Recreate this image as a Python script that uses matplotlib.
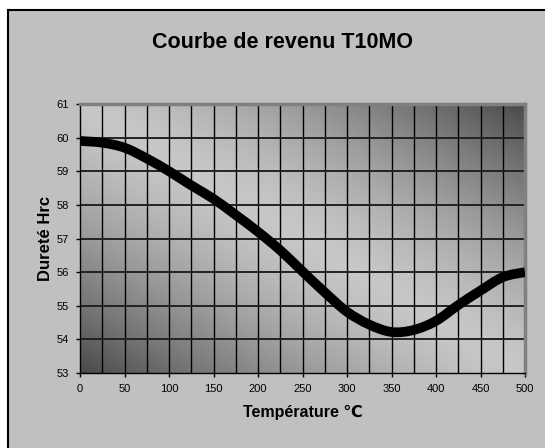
import numpy as np
import matplotlib
matplotlib.use("Agg")
import matplotlib.pyplot as plt
from matplotlib.patches import Rectangle, PathPatch
from matplotlib.path import Path

plt.rcParams['font.family'] = ['Liberation Sans', 'DejaVu Sans']

temperature = [0, 25, 50, 75, 100, 125, 150, 175, 200, 225, 250, 275, 300, 325, 350, 375, 400, 425, 450, 475, 500]
durete = [59.9, 59.85, 59.7, 59.38, 59.0, 58.58, 58.18, 57.7, 57.2, 56.65, 56.02, 55.4, 54.82, 54.44, 54.22, 54.28, 54.55, 55.02, 55.45, 55.85, 56.0]
x_ticks = [0, 50, 100, 150, 200, 250, 300, 350, 400, 450, 500]
y_ticks = [53, 54, 55, 56, 57, 58, 59, 60, 61]
title = "Courbe de revenu T10MO"
xlabel = "Température ℃"
ylabel = "Dureté Hrc"

W, H = 545, 448
fig = plt.figure(figsize=(W / 100, H / 100), dpi=100)
fig.patch.set_facecolor('white')

# outer chart frame (background axes)
bg = fig.add_axes([0, 0, 1, 1], zorder=0)
bg.set_xlim(0, W)
bg.set_ylim(H, 0)
bg.axis('off')
bg.add_patch(Rectangle((8, 10), W, H, facecolor='#c0c0c0', edgecolor='none'))
bg.plot([8, 8], [H + 5, 10], color='black', lw=1.5, solid_capstyle='projecting')
bg.plot([8, W + 5], [10, 10], color='black', lw=1.5, solid_capstyle='projecting')

ax = fig.add_axes([80 / W, 1 - 373 / H, 445 / W, 269 / H], zorder=2)
ax.set_xlim(0, 500)
ax.set_ylim(53, 61)

# diagonal gradient background
n = 300
u, v = np.meshgrid(np.linspace(0, 1, n), np.linspace(0, 1, n))
t = np.abs((u + v) - 1.0) ** 1.4
light, dark = 0.78, 0.29
img = light + (dark - light) * t
ax.imshow(img, extent=[0, 500, 53, 61], origin='lower', cmap='gray', vmin=0, vmax=1,
          aspect='auto', zorder=0, interpolation='bilinear')

for xv in np.arange(25, 500, 25):
    ax.axvline(xv, color='black', lw=1.0, zorder=1)
for yv in y_ticks[1:-1]:
    ax.axhline(yv, color='#222222', lw=1.4, zorder=1)

# smoothed line (Catmull-Rom as cubic Bezier segments, like Excel's smoothed line)
px = np.asarray(temperature, float)
py = np.asarray(durete, float)
verts = [(px[0], py[0])]
codes = [Path.MOVETO]
for i in range(len(px) - 1):
    p0 = (px[i - 1], py[i - 1]) if i > 0 else (px[i], py[i])
    p1 = (px[i], py[i])
    p2 = (px[i + 1], py[i + 1])
    p3 = (px[i + 2], py[i + 2]) if i + 2 < len(px) else (px[i + 1], py[i + 1])
    c1 = (p1[0] + (p2[0] - p0[0]) / 6, p1[1] + (p2[1] - p0[1]) / 6)
    c2 = (p2[0] - (p3[0] - p1[0]) / 6, p2[1] - (p3[1] - p1[1]) / 6)
    verts += [c1, c2, p2]
    codes += [Path.CURVE4] * 3
ax.add_patch(PathPatch(Path(verts, codes), facecolor='none', edgecolor='black',
                       lw=7, capstyle='butt', zorder=3))

ax.set_xticks(x_ticks)
ax.set_yticks(y_ticks)
ax.tick_params(axis='both', direction='out', length=3, width=1, labelsize=8, colors='black', pad=5)
for s in ['top', 'right']:
    ax.spines[s].set_color('#808080')
    ax.spines[s].set_linewidth(2.5)
for s in ['left', 'bottom']:
    ax.spines[s].set_color('black')
    ax.spines[s].set_linewidth(1.0)

fig.text(283 / W, 1 - 43 / H, title, ha='center', va='center', fontsize=15.5, fontweight='bold')
fig.text(303 / W, 1 - 412 / H, xlabel, ha='center', va='center', fontsize=11.5, fontweight='bold')
fig.text(45 / W, 1 - 238 / H, ylabel, ha='center', va='center', rotation=90, fontsize=12, fontweight='bold')

fig.savefig("out.png", dpi=100, facecolor=fig.get_facecolor())
